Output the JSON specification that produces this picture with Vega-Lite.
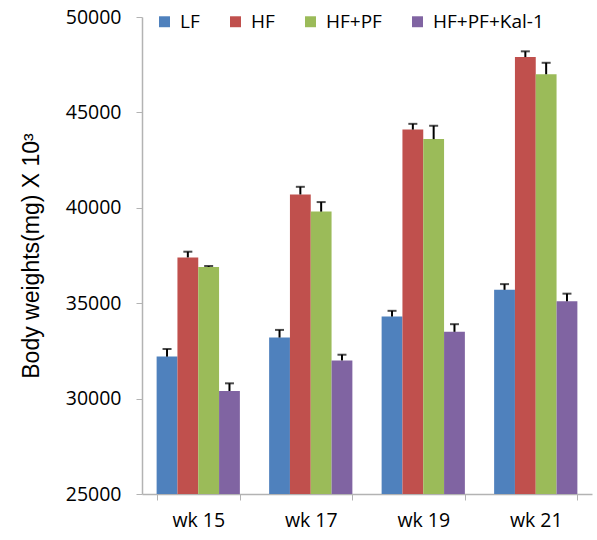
{
  "$schema": "https://vega.github.io/schema/vega-lite/v6.json",
  "width": 450,
  "height": 477,
  "autosize": {"type": "none"},
  "padding": {"left": 142, "top": 17, "right": 5, "bottom": 46},
  "background": "white",
  "config": {
    "font": "Open Sans",
    "view": {"stroke": null},
    "axis": {"labelFont": "Open Sans", "titleFont": "Liberation Sans", "labelColor": "#000", "titleColor": "#000", "titleFontWeight": "normal"}
  },
  "data": {
    "values": [
      {"week": "wk 15", "group": "LF", "value": 32200, "hi": 32600},
      {"week": "wk 15", "group": "HF", "value": 37400, "hi": 37700},
      {"week": "wk 15", "group": "HF+PF", "value": 36900, "hi": 36950},
      {"week": "wk 15", "group": "HF+PF+Kal-1", "value": 30400, "hi": 30800},
      {"week": "wk 17", "group": "LF", "value": 33200, "hi": 33600},
      {"week": "wk 17", "group": "HF", "value": 40700, "hi": 41100},
      {"week": "wk 17", "group": "HF+PF", "value": 39800, "hi": 40300},
      {"week": "wk 17", "group": "HF+PF+Kal-1", "value": 32000, "hi": 32300},
      {"week": "wk 19", "group": "LF", "value": 34300, "hi": 34600},
      {"week": "wk 19", "group": "HF", "value": 44100, "hi": 44400},
      {"week": "wk 19", "group": "HF+PF", "value": 43600, "hi": 44300},
      {"week": "wk 19", "group": "HF+PF+Kal-1", "value": 33500, "hi": 33900},
      {"week": "wk 21", "group": "LF", "value": 35700, "hi": 36000},
      {"week": "wk 21", "group": "HF", "value": 47900, "hi": 48200},
      {"week": "wk 21", "group": "HF+PF", "value": 47000, "hi": 47600},
      {"week": "wk 21", "group": "HF+PF+Kal-1", "value": 35100, "hi": 35500}
    ]
  },
  "encoding": {
    "x": {
      "field": "week", "type": "nominal",
      "scale": {"paddingInner": 0.26, "paddingOuter": 0.13},
      "axis": {"title": null, "labelAngle": 0, "labelFontSize": 19.5, "labelPadding": 11, "tickBand": "extent", "domainColor": "#b3b3b3", "tickColor": "#b3b3b3", "tickSize": 6, "domainWidth": 1.5}
    },
    "xOffset": {"field": "group", "type": "nominal", "sort": ["LF", "HF", "HF+PF", "HF+PF+Kal-1"]}
  },
  "layer": [
    {
      "mark": {"type": "bar", "clip": true},
      "encoding": {
        "y": {
          "field": "value", "type": "quantitative",
          "scale": {"domain": [25000, 50000], "zero": false, "nice": false},
          "axis": {"title": "Body weights(mg) X 10³", "titleFontSize": 23, "titlePadding": 22, "values": [25000, 30000, 35000, 40000, 45000, 50000], "format": "d", "labelFontSize": 19.5, "labelPadding": 15, "grid": false, "domainColor": "#b3b3b3", "tickColor": "#b3b3b3", "tickSize": 6, "domainWidth": 1.5}
        },
        "color": {
          "field": "group", "type": "nominal",
          "sort": ["LF", "HF", "HF+PF", "HF+PF+Kal-1"],
          "scale": {"domain": ["LF", "HF", "HF+PF", "HF+PF+Kal-1"], "range": ["#4F81BD", "#C0504D", "#9BBB59", "#8064A2"]},
          "legend": {"title": null, "orient": "none", "legendX": 13, "legendY": -5, "direction": "horizontal", "symbolType": "square", "symbolSize": 120, "symbolStrokeWidth": 0, "labelFontSize": 19, "labelColor": "#000", "columnPadding": 26, "symbolOffset": 0, "labelOffset": 6}
        }
      }
    },
    {
      "mark": {"type": "rule", "color": "black", "strokeWidth": 2},
      "encoding": {
        "y": {"field": "value", "type": "quantitative"},
        "y2": {"field": "hi"}
      }
    },
    {
      "mark": {"type": "tick", "color": "black", "thickness": 2, "size": 9},
      "encoding": {
        "y": {"field": "hi", "type": "quantitative"}
      }
    }
  ]
}
